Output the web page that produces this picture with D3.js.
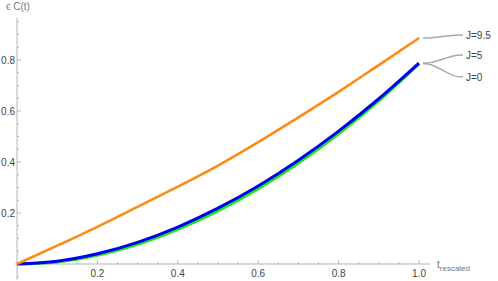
<!DOCTYPE html>
<html lang="en">
<head>
<meta charset="utf-8">
<title>epsilon C(t)</title>
<style>
  body { margin: 0; background: #fff; }
  svg text { font-family: "Liberation Sans", Arial, sans-serif; font-size: 10px; }
</style>
</head>
<body>
<script src="https://d3js.org/d3.v7.min.js"></script>
<script>
// data
const tValues = [0, 0.1, 0.2, 0.3, 0.4, 0.5, 0.6, 0.7, 0.8, 0.9, 1.0];
const cJ95 = [0, 0.072, 0.146, 0.224, 0.303, 0.386, 0.478, 0.575, 0.675, 0.780, 0.886];
const cJ5  = [0, 0.011, 0.040, 0.085, 0.145, 0.219, 0.306, 0.407, 0.521, 0.648, 0.788];
const cJ0  = [0, 0.008, 0.034, 0.077, 0.136, 0.208, 0.295, 0.396, 0.511, 0.640, 0.785];
const seriesNames = ["J=0", "J=5", "J=9.5"];
const xTicks = [0.2, 0.4, 0.6, 0.8, 1.0];
const yTicks = [0.2, 0.4, 0.6, 0.8];

const width = 498, height = 281;

const x = d3.scaleLinear().domain([0, 1]).range([17, 419]);
const y = d3.scaleLinear().domain([0, 1]).range([264, 9]);

const svg = d3.select("body").append("svg")
    .attr("width", width)
    .attr("height", height);

const axisColor = "#b5b5b5";
const textColor = "#444";

// axes lines
svg.append("line")
    .attr("x1", x(-0.005)).attr("x2", x(1.027))
    .attr("y1", y(0)).attr("y2", y(0))
    .attr("stroke", axisColor);
svg.append("line")
    .attr("x1", x(0)).attr("x2", x(0))
    .attr("y1", y(-0.063)).attr("y2", y(0.965))
    .attr("stroke", axisColor);

// x ticks
const xMinor = d3.range(0.05, 1.03, 0.05).filter(v => !xTicks.some(t => Math.abs(t - v) < 1e-6));
svg.append("g").selectAll("line").data(xMinor).join("line")
    .attr("x1", d => x(d)).attr("x2", d => x(d))
    .attr("y1", y(0)).attr("y2", y(0) - 2)
    .attr("stroke", axisColor);
svg.append("g").selectAll("line").data(xTicks).join("line")
    .attr("x1", d => x(d)).attr("x2", d => x(d))
    .attr("y1", y(0)).attr("y2", y(0) - 4)
    .attr("stroke", axisColor);
svg.append("g").selectAll("text").data(xTicks).join("text")
    .attr("x", d => x(d)).attr("y", y(0) + 13)
    .attr("text-anchor", "middle")
    .attr("fill", textColor)
    .text(d => d.toFixed(1));

// y ticks
const yMinor = d3.range(-0.05, 0.96, 0.05).filter(v => Math.abs(v) > 1e-6 && !yTicks.some(t => Math.abs(t - v) < 1e-6));
svg.append("g").selectAll("line").data(yMinor).join("line")
    .attr("x1", x(0)).attr("x2", x(0) + 2)
    .attr("y1", d => y(d)).attr("y2", d => y(d))
    .attr("stroke", axisColor);
svg.append("g").selectAll("line").data(yTicks).join("line")
    .attr("x1", x(0)).attr("x2", x(0) + 4)
    .attr("y1", d => y(d)).attr("y2", d => y(d))
    .attr("stroke", axisColor);
svg.append("g").selectAll("text").data(yTicks).join("text")
    .attr("x", x(0) - 2).attr("y", d => y(d) + 3.5)
    .attr("text-anchor", "end")
    .attr("fill", textColor)
    .text(d => d.toFixed(1));

// axis labels
svg.append("text")
    .attr("x", 6).attr("y", 10)
    .attr("fill", "#777")
    .text("\u03F5 C(t)");
const xl = svg.append("text")
    .attr("x", 437).attr("y", 268)
    .attr("fill", "#777");
xl.append("tspan").text("t");
xl.append("tspan").attr("dy", 3).attr("font-size", "8px").text("rescaled");

// curves
const line = d3.line()
    .x((d, i) => x(tValues[i]))
    .y(d => y(d))
    .curve(d3.curveMonotoneX);

const series = [
    { name: seriesNames[0], values: cJ0, color: "#1be81b", w: 3 },
    { name: seriesNames[1], values: cJ5, color: "#0000f0", w: 3 },
    { name: seriesNames[2], values: cJ95, color: "#ff8a12", w: 2.5 }
];

svg.append("g").selectAll("path").data(series).join("path")
    .attr("d", d => line(d.values))
    .attr("fill", "none")
    .attr("stroke", d => d.color)
    .attr("stroke-width", d => d.w);

// callouts
const labelY = { "J=9.5": 35, "J=5": 55, "J=0": 77 };
const callout = d3.line().curve(d3.curveBasis);
series.forEach(s => {
    const ex = x(1) + 4, ey = y(s.values[s.values.length - 1]);
    const ly = labelY[s.name];
    const pts = [[ex, ey], [ex + 8, ey], [ex + 20, (ey + ly) / 2], [ex + 32, ly], [ex + 40, ly]];
    svg.append("path")
        .attr("d", callout(pts))
        .attr("fill", "none")
        .attr("stroke", "#aaa")
        .attr("stroke-width", 1.5);
    svg.append("text")
        .attr("x", ex + 43).attr("y", ly + 3.5)
        .attr("fill", textColor)
        .text(s.name);
});
</script>
</body>
</html>
